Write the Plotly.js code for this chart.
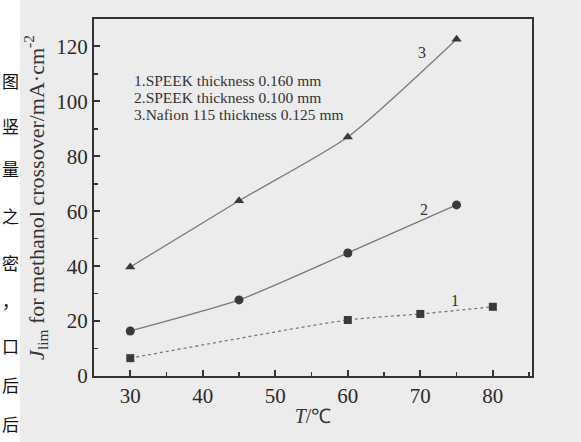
<!DOCTYPE html>
<html>
<head>
<meta charset="utf-8">
<script src="https://cdn.plot.ly/plotly-3.0.1.min.js"></script>
<style>html,body{margin:0;padding:0;background:#ececec;}#chart{width:581px;height:442px;}</style>
</head>
<body>
<div id="chart"></div>
<script>
// Data
const temps1 = [30, 60, 70, 80];
const jlim1 = [6.5, 20.4, 22.6, 25.2];
const temps2 = [30, 45, 60, 75];
const jlim2 = [16.4, 27.7, 44.8, 62.3];
const temps3 = [30, 45, 60, 75];
const jlim3 = [39.7, 63.8, 87, 122.6];
const seriesNames = ["1.SPEEK thickness 0.160 mm", "2.SPEEK thickness 0.100 mm", "3.Nafion 115 thickness 0.125 mm"];
const curveLabels = ["1", "2", "3"];
const curveLabelX = [74.8, 70.5, 70.2];
const curveLabelY = [27.5, 60.5, 117.7];
const xTicks = [30, 40, 50, 60, 70, 80];
const yTicks = [0, 20, 40, 60, 80, 100, 120];
const marginChars = ["图", "竖", "量", "之", "密", "，", "口", "后", "后"];
const marginCharY = [80, 125, 168, 215, 262, 300, 345, 385, 423];

const serif = "Liberation Serif";
const lineCol = "#7a7a7a";
const markCol = "#3a3a3a";

const traces = [
  {x: temps1, y: jlim1, name: seriesNames[0], mode: "lines+markers",
   line: {color: lineCol, width: 1.3, dash: "dot", shape: "spline", smoothing: 0.6},
   marker: {symbol: "square", size: 8, color: markCol}},
  {x: temps2, y: jlim2, name: seriesNames[1], mode: "lines+markers",
   line: {color: lineCol, width: 1.3, shape: "spline", smoothing: 0.6},
   marker: {symbol: "circle", size: 9, color: markCol}},
  {x: temps3, y: jlim3, name: seriesNames[2], mode: "lines+markers",
   line: {color: lineCol, width: 1.3, shape: "spline", smoothing: 0.6},
   marker: {symbol: "triangle-up", size: 9, color: markCol}}
];

const annotations = [];
for (let i = 0; i < curveLabels.length; i++) {
  annotations.push({x: curveLabelX[i], y: curveLabelY[i], xref: "x", yref: "y",
    text: curveLabels[i], showarrow: false, font: {family: serif, size: 16, color: "#333"}});
}
const legendLineY = [80, 97.5, 115];
for (let i = 0; i < seriesNames.length; i++) {
  annotations.push({xref: "paper", yref: "paper", x: (132 - 94) / 438, y: 1 - (legendLineY[i] - 19) / 357,
    xanchor: "left", yanchor: "middle", align: "left", showarrow: false,
    text: seriesNames[i], font: {family: serif, size: 15.5, color: "#333"}});
}
for (let i = 0; i < marginChars.length; i++) {
  annotations.push({xref: "paper", yref: "paper", x: (10 - 94) / 438, y: 1 - (marginCharY[i] - 19) / 357,
    xanchor: "center", yanchor: "middle", showarrow: false, text: marginChars[i],
    font: {family: "Noto Sans CJK SC", size: 17, color: "#111"}});
}

const layout = {
  width: 581, height: 442,
  margin: {l: 94, r: 49, t: 19, b: 66, pad: 0},
  paper_bgcolor: "#ececec", plot_bgcolor: "#ececec",
  showlegend: false,
  font: {family: serif, color: "#333"},
  shapes: [{type: "rect", xref: "paper", yref: "paper", x0: -94 / 438, x1: (20 - 94) / 438,
    y0: -66 / 357, y1: 1 + 19 / 357, fillcolor: "#ffffff", line: {width: 0}, layer: "below"}],
  xaxis: {
    range: [25, 85.4], tickvals: xTicks, ticks: "inside", ticklen: 6, tickwidth: 2, tickcolor: "#333",
    minor: {dtick: 5, ticks: "inside", ticklen: 4, tickwidth: 1.5, tickcolor: "#333"},
    showline: true, linecolor: "#333", linewidth: 2, mirror: true, showgrid: false, zeroline: false,
    tickfont: {family: serif, size: 21, color: "#2a2a2a"},
    title: {text: "<i>T</i>/℃", font: {family: serif, size: 20, color: "#333"}, standoff: 2}
  },
  yaxis: {
    range: [0, 130], tickvals: yTicks, ticks: "inside", ticklen: 6, tickwidth: 2, tickcolor: "#333",
    minor: {dtick: 10, ticks: "inside", ticklen: 4, tickwidth: 1.5, tickcolor: "#333"},
    showline: true, linecolor: "#333", linewidth: 2, mirror: true, showgrid: false, zeroline: false,
    tickfont: {family: serif, size: 21, color: "#2a2a2a"},
    title: {text: "<i>J</i><sub>lim</sub> for methanol crossover/mA·cm<sup>-2</sup>",
      font: {family: serif, size: 22, color: "#333"}, standoff: 6}
  },
  annotations: annotations
};

Plotly.newPlot("chart", traces, layout, {displayModeBar: false, staticPlot: true});
</script>
</body>
</html>
